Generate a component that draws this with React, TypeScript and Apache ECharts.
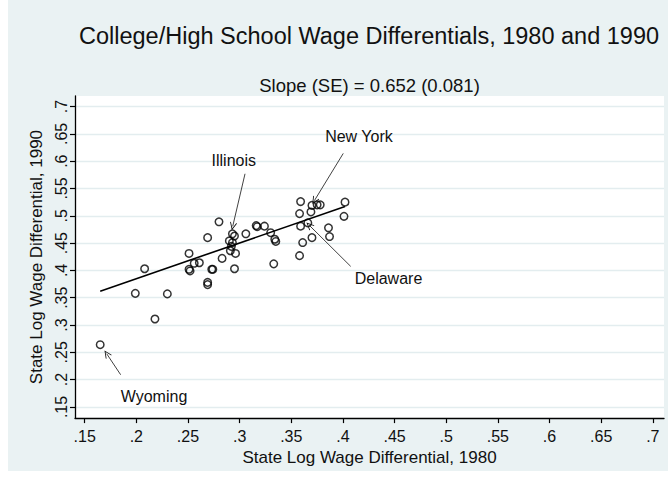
import React, { useEffect, useRef } from "react";
import * as echarts from "echarts";

// State log wage differentials (x = 1980, y = 1990)
const x1980 = [
  0.165, 0.199, 0.208, 0.218, 0.230, 0.251, 0.251, 0.252, 0.256, 0.261,
  0.269, 0.269, 0.269, 0.273, 0.274, 0.280, 0.283,
  0.293, 0.295, 0.290, 0.293, 0.292, 0.291, 0.296, 0.295,
  0.306, 0.316, 0.317, 0.324, 0.330, 0.334, 0.335, 0.333,
  0.359, 0.370, 0.375, 0.378, 0.402, 0.358, 0.369, 0.401, 0.359, 0.366,
  0.386, 0.387, 0.370, 0.361, 0.358,
];
const y1990 = [
  0.264, 0.358, 0.403, 0.311, 0.357, 0.431, 0.402, 0.399, 0.413, 0.414,
  0.460, 0.378, 0.374, 0.402, 0.402, 0.489, 0.422,
  0.467, 0.463, 0.454, 0.451, 0.444, 0.436, 0.431, 0.403,
  0.467, 0.482, 0.480, 0.481, 0.469, 0.457, 0.453, 0.412,
  0.526, 0.519, 0.520, 0.520, 0.525, 0.504, 0.507, 0.499, 0.481, 0.487,
  0.478, 0.462, 0.460, 0.451, 0.427,
];

// Fitted regression line endpoints
const fitX = [0.165, 0.402];
const fitY = [0.362, 0.517];

// Annotations
const labelNames = ["Illinois", "New York", "Delaware", "Wyoming"];
const labelX = [0.2943, 0.4155, 0.4441, 0.2171];
const labelY = [0.6012, 0.6445, 0.3848, 0.1693];
const arrowFromX = [0.3052, 0.4003, 0.4075, 0.1848];
const arrowFromY = [0.5769, 0.6142, 0.4074, 0.2090];
const arrowToX = [0.2933, 0.3723, 0.3674, 0.1713];
const arrowToY = [0.4807, 0.5276, 0.4826, 0.2474];

// Ticks
const xTickValues = [0.15, 0.2, 0.25, 0.3, 0.35, 0.4, 0.45, 0.5, 0.55, 0.6, 0.65, 0.7];
const xTickLabels = [".15", ".2", ".25", ".3", ".35", ".4", ".45", ".5", ".55", ".6", ".65", ".7"];
const yTickValues = [0.15, 0.2, 0.25, 0.3, 0.35, 0.4, 0.45, 0.5, 0.55, 0.6, 0.65, 0.7];
const yTickLabels = [".15", ".2", ".25", ".3", ".35", ".4", ".45", ".5", ".55", ".6", ".65", ".7"];

const titleText = "College/High School Wage Differentials, 1980 and 1990";
const subtitleText = "Slope (SE) = 0.652 (0.081)";
const xName = "State Log Wage Differential, 1980";
const yName = "State Log Wage Differential, 1990";

const FONT = "'Liberation Sans', Arial, sans-serif";
const BG = "#eaf2f3";

const fmt = (vals: number[], labels: string[]) => (v: number) => {
  const i = vals.findIndex((t) => Math.abs(t - v) < 1e-6);
  return i >= 0 ? labels[i] : "";
};

const chevron = "path://M5,0 L10,9 L9,9.6 L5,2.4 L1,9.6 L0,9 Z";

export default function App() {
  const ref = useRef<HTMLDivElement>(null);
  useEffect(() => {
    if (!ref.current) return;
    const chart = echarts.init(ref.current, null, { renderer: "svg" });
    const points = x1980.map((x, i) => [x, y1990[i]]);
    const fit = fitX.map((x, i) => [x, fitY[i]]);
    const labels = labelNames.map((n, i) => ({ name: n, value: [labelX[i], labelY[i]] }));
    const arrows = labelNames.map((_, i) => [
      { coord: [arrowFromX[i], arrowFromY[i]] },
      { coord: [arrowToX[i], arrowToY[i]] },
    ]);
    chart.setOption({
      animation: false,
      backgroundColor: BG,
      textStyle: { fontFamily: FONT },
      title: [
        {
          text: titleText,
          left: 361,
          top: 22,
          textAlign: "center",
          padding: 0,
          textStyle: { fontFamily: FONT, fontSize: 23.5, fontWeight: "normal", color: "#111", lineHeight: 28 },
        },
        {
          text: subtitleText,
          left: 361.5,
          top: 74,
          textAlign: "center",
          padding: 0,
          textStyle: { fontFamily: FONT, fontSize: 18.5, fontWeight: "normal", color: "#111", lineHeight: 22 },
        },
      ],
      grid: {
        left: 67,
        right: 4,
        top: 96,
        bottom: 48,
        show: true,
        backgroundColor: "#ffffff",
        borderWidth: 0,
      },
      xAxis: {
        type: "value",
        min: 0.14061,
        max: 0.7108,
        name: xName,
        nameLocation: "middle",
        nameGap: 25,
        nameTextStyle: { fontFamily: FONT, fontSize: 17, color: "#111" },
        axisLine: { show: true, onZero: false, lineStyle: { color: "#000", width: 1.3 } },
        axisTick: { show: true, length: 5, customValues: xTickValues, lineStyle: { color: "#000", width: 1.2 } },
        axisLabel: {
          customValues: xTickValues,
          formatter: fmt(xTickValues, xTickLabels),
          margin: 10,
          fontFamily: FONT,
          fontSize: 16,
          color: "#111",
        },
        splitLine: { show: false },
      },
      yAxis: {
        type: "value",
        min: 0.1296,
        max: 0.7193,
        name: yName,
        nameLocation: "middle",
        nameGap: 26,
        nameTextStyle: { fontFamily: FONT, fontSize: 17, color: "#111" },
        axisLine: { show: true, onZero: false, lineStyle: { color: "#000", width: 1.3 } },
        axisTick: { show: true, length: 5, customValues: yTickValues, lineStyle: { color: "#000", width: 1.2 } },
        axisLabel: {
          customValues: yTickValues,
          formatter: fmt(yTickValues, yTickLabels),
          rotate: 90,
          margin: 6,
          fontFamily: FONT,
          fontSize: 16,
          color: "#111",
        },
        splitLine: { show: true, lineStyle: { color: "#e3edef", width: 1.3 } },
      },
      series: [
        {
          type: "scatter",
          data: points,
          symbol: "circle",
          symbolSize: 7.5,
          itemStyle: { color: "rgba(0,0,0,0)", borderColor: "#000", borderWidth: 1.5 },
          z: 3,
        },
        {
          type: "line",
          data: fit,
          showSymbol: false,
          symbol: "none",
          lineStyle: { color: "#000", width: 1.6 },
          z: 2,
          markLine: {
            silent: true,
            symbol: ["none", chevron],
            symbolSize: [7, 8],
            label: { show: false },
            lineStyle: { color: "#111", width: 0.8, type: "solid" },
            data: arrows,
          },
        },
        {
          type: "scatter",
          data: labels,
          symbolSize: 1,
          itemStyle: { color: "rgba(0,0,0,0)", borderWidth: 0 },
          label: {
            show: true,
            position: "inside",
            formatter: (p: any) => p.name,
            fontFamily: FONT,
            fontSize: 16,
            color: "#111",
            opacity: 1,
            textBorderWidth: 0,
            textBorderColor: "transparent",
            textShadowBlur: 0,
          },
          z: 4,
        },
      ],
    });
    return () => chart.dispose();
  }, []);
  return (
    <div
      ref={ref}
      style={{ position: "absolute", left: 8, top: 0, width: 660, height: 471, background: BG }}
    />
  );
}
